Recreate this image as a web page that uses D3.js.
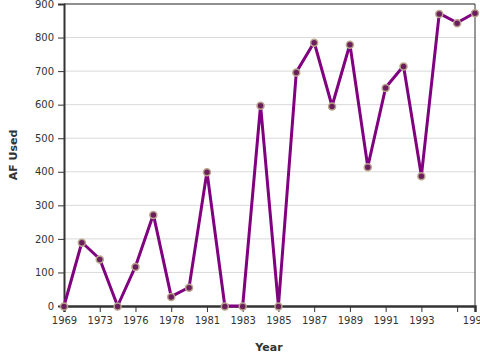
<!DOCTYPE html>
<html><head><meta charset="utf-8">
<script src="https://cdn.jsdelivr.net/npm/d3@7"></script>
<style>body{margin:0;background:#fff}svg{display:block}text{font-family:"DejaVu Sans",Verdana,sans-serif}</style>
</head><body><svg id="c" width="480" height="360"></svg>
<script>
const years = ["1969","1971","1973","1975","1976","1977","1978","1980","1981","1982","1983","1984","1985","1986","1987","1988","1989","1990","1991","1992","1993","1994","1995","1996"];
const afUsed = [0,190,140,0,118,273,28,56,400,0,0,598,0,697,786,596,780,415,651,715,388,872,844,874];
const tickYears = ["1969","1973","1976","1978","1981","1983","1985","1987","1989","1991","1993","1995","1996"];
const tickLabels = ["1969","1973","1976","1978","1981","1983","1985","1987","1989","1991","1993","","1996"];
const yTicks = [0,100,200,300,400,500,600,700,800,900];

const svg = d3.select("#c");
const L = 64, R = 475, T = 4, B = 306;
const x = d3.scalePoint().domain(years).range([L, R]);
const y = d3.scaleLinear().domain([0, 900]).range([B, T]);

// gridlines
svg.append("g").selectAll("line").data(yTicks.slice(1)).join("line")
  .attr("x1", L).attr("x2", R).attr("y1", d => y(d)).attr("y2", d => y(d))
  .attr("stroke", "#d9d9d9").attr("stroke-width", 1);

// frame top/right
svg.append("line").attr("x1", L).attr("x2", R).attr("y1", T).attr("y2", T).attr("stroke", "#333").attr("stroke-width", 1);
svg.append("line").attr("x1", R).attr("x2", R).attr("y1", T).attr("y2", B).attr("stroke", "#333").attr("stroke-width", 1);

// y axis
const yAxis = svg.append("g").attr("transform", `translate(${L},0)`)
  .call(d3.axisLeft(y).tickValues(yTicks).tickSize(6).tickPadding(4));
yAxis.select(".domain").attr("stroke", "#333").attr("stroke-width", 2);
yAxis.selectAll(".tick line").attr("stroke", "#333");
yAxis.selectAll("text").attr("font-size", 10).attr("fill", "#333").style("font-family", "DejaVu Sans, Verdana, sans-serif");

// x axis
const xAxis = svg.append("g").attr("transform", `translate(0,${B})`)
  .call(d3.axisBottom(x).tickValues(tickYears).tickSize(6).tickPadding(5)
    .tickFormat((d) => tickLabels[tickYears.indexOf(d)]));
xAxis.select(".domain").attr("stroke", "#333").attr("stroke-width", 2.5);
xAxis.selectAll(".tick line").attr("stroke", "#333");
xAxis.selectAll("text").attr("font-size", 10).attr("fill", "#333").style("font-family", "DejaVu Sans, Verdana, sans-serif");

// line
const data = years.map((yr, i) => ({yr, v: afUsed[i]}));
svg.append("path").datum(data)
  .attr("fill", "none").attr("stroke", "#800080").attr("stroke-width", 3).attr("stroke-linejoin", "round")
  .attr("d", d3.line().x(d => x(d.yr)).y(d => y(d.v)));

svg.append("g").selectAll("circle").data(data).join("circle")
  .attr("cx", d => x(d.yr)).attr("cy", d => y(d.v) + 0.5).attr("r", 3.5)
  .attr("fill", "#6a1f5c").attr("stroke", "#b8a48c").attr("stroke-width", 1.5);

// titles
svg.append("text").attr("x", 269).attr("y", 351).attr("text-anchor", "middle")
  .attr("font-size", 11).attr("font-weight", "bold").attr("fill", "#333").text("Year");
svg.append("text").attr("transform", "translate(17,155) rotate(-90)").attr("text-anchor", "middle")
  .attr("font-size", 11).attr("font-weight", "bold").attr("fill", "#333").text("AF Used");
</script></body></html>
